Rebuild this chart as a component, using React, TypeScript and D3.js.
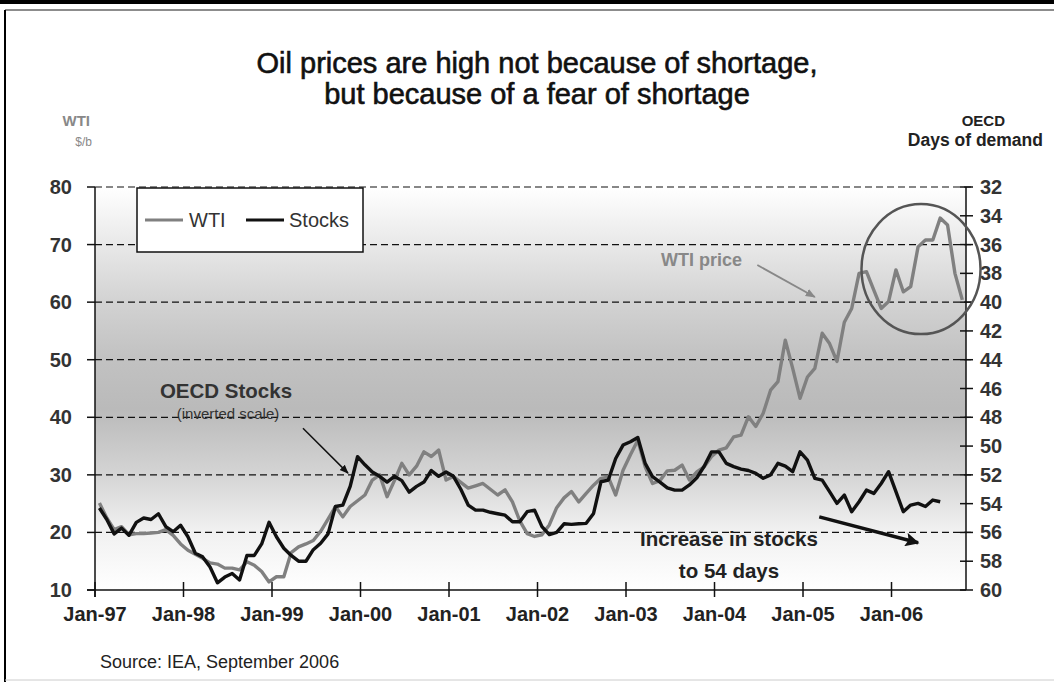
import React from "react";
import * as d3 from "d3";

// ---------- data (monthly, Jan-97 onward) ----------
const wti: number[] = [
  25.1, 22.5, 20.5, 21.0, 19.6, 19.8, 19.8, 19.9, 20.0, 20.5, 19.5, 18.0,
  16.9, 16.2, 15.5, 14.7, 14.5, 13.8, 13.8, 13.5, 14.9, 14.3, 13.2, 11.4,
  12.3, 12.3, 16.5, 17.5, 18.0, 18.6, 20.2, 22.3, 24.5, 22.7, 24.5, 25.5,
  26.5, 29.1, 30.0, 26.2, 29.0, 32.0, 30.0, 31.5, 34.0, 33.2, 34.3, 29.1,
  29.7, 28.7, 27.7, 28.1, 28.5, 27.5, 26.5, 27.4, 25.3, 22.0, 19.8, 19.3,
  19.6, 21.3, 24.3, 26.0, 27.1, 25.3, 26.8, 28.2, 29.4, 29.6, 26.5, 30.8,
  33.5, 36.0, 31.4, 28.5, 29.0, 30.7, 30.8, 31.7, 29.1, 30.5, 31.4, 33.2,
  34.3, 34.7, 36.6, 36.9, 40.1, 38.4, 40.7, 44.7, 46.2, 53.4, 48.5, 43.3,
  47.0, 48.5, 54.6, 52.8, 49.7, 56.5, 58.9, 65.0, 65.3, 62.1, 58.9, 60.1,
  65.6, 61.8, 62.7, 69.6, 70.8, 70.8, 74.6, 73.4, 65.0, 60.4,
];

const stocks: number[] = [
  54.3, 55.1, 56.1, 55.7, 56.2, 55.3, 55.0, 55.1, 54.7, 55.6, 55.95, 55.5,
  56.3, 57.45, 57.7, 58.4, 59.5, 59.1, 58.85, 59.3, 57.6, 57.6, 56.8, 55.3,
  56.3, 57.1, 57.6, 58.0, 58.0, 57.2, 56.75, 56.1, 54.2, 54.1, 52.8, 50.74,
  51.3, 51.8, 52.1, 52.5, 52.1, 52.4, 53.2, 52.8, 52.5, 51.7, 52.1, 51.8,
  52.1, 53.0, 54.1, 54.45, 54.45, 54.6, 54.7, 54.8, 55.26, 55.26, 54.56, 54.45,
  55.6, 56.15, 56.0, 55.4, 55.44, 55.4, 55.37, 54.68, 52.48, 52.36, 50.86, 49.93,
  49.7, 49.4, 51.2, 52.13, 52.5, 52.9, 53.06, 53.06, 52.7, 52.2, 51.4, 50.4,
  50.4, 51.2, 51.43, 51.6, 51.7, 51.9, 52.24, 52.0, 51.2, 51.39, 51.78, 50.4,
  50.97, 52.24, 52.36, 53.17, 53.98, 53.4, 54.56, 53.87, 53.06, 53.29, 52.6, 51.78,
  53.17, 54.56, 54.1, 53.98, 54.2, 53.75, 53.87,
];

const xTickLabels = ["Jan-97", "Jan-98", "Jan-99", "Jan-00", "Jan-01", "Jan-02", "Jan-03", "Jan-04", "Jan-05", "Jan-06"];
const leftTicks = [10, 20, 30, 40, 50, 60, 70, 80];
const gridValues = [20, 30, 40, 50, 60, 70, 80];
const rightTicks = [32, 34, 36, 38, 40, 42, 44, 46, 48, 50, 52, 54, 56, 58, 60];

const title1 = "Oil prices are high not because of shortage,";
const title2 = "but because of a fear of shortage";
const source = "Source: IEA, September 2006";

// ---------- layout ----------
const W = 1054;
const H = 682;
const L = 95, R = 966, T = 187, B = 590;
const monthOffset = 0.6;
const font = "'Liberation Sans', Arial, sans-serif";

const x = d3.scaleLinear().domain([0, 118.1]).range([L, R]);
const yL = d3.scaleLinear().domain([10, 80]).range([B, T]);
const yR = d3.scaleLinear().domain([32, 60]).range([T, B]);

const wtiLine = d3
  .line<number>()
  .x((_, i) => x(i + monthOffset))
  .y((d) => yL(d));
const stockLine = d3
  .line<number>()
  .x((_, i) => x(i + monthOffset))
  .y((d) => yR(d));

export default function App() {
  return (
    <svg
      width={W}
      height={H}
      viewBox={`0 0 ${W} ${H}`}
      style={{ position: "absolute", left: 0, top: 0, background: "#fff" }}
      fontFamily={font}
    >
      <defs>
        <linearGradient id="bg" x1="0" y1="0" x2="0" y2="1">
          <stop offset="0" stopColor="#ffffff" />
          <stop offset="0.12" stopColor="#ececec" />
          <stop offset="0.28" stopColor="#d3d3d3" />
          <stop offset="0.42" stopColor="#c2c2c2" />
          <stop offset="0.55" stopColor="#bababa" />
          <stop offset="0.7" stopColor="#d2d2d2" />
          <stop offset="0.85" stopColor="#f0f0f0" />
          <stop offset="1" stopColor="#ffffff" />
        </linearGradient>
        <marker id="ahBlack" viewBox="0 0 10 10" refX="9" refY="5" markerWidth="9" markerHeight="9" orient="auto" markerUnits="userSpaceOnUse">
          <path d="M0,1 L10,5 L0,9 Z" fill="#111" />
        </marker>
        <marker id="ahGray" viewBox="0 0 10 10" refX="9" refY="5" markerWidth="10" markerHeight="10" orient="auto" markerUnits="userSpaceOnUse">
          <path d="M0,1 L10,5 L0,9 Z" fill="#888" />
        </marker>
        <marker id="ahBig" viewBox="0 0 10 10" refX="9" refY="5" markerWidth="16" markerHeight="14" orient="auto" markerUnits="userSpaceOnUse">
          <path d="M0,0 L10,5 L0,10 L2,5 Z" fill="#111" />
        </marker>
      </defs>

      {/* frame */}
      <rect x={0} y={0} width={W} height={4} fill="#000" />
      <line x1={5} y1={10} x2={W} y2={10} stroke="#666" strokeWidth={1.5} />
      <line x1={5} y1={10} x2={5} y2={H} stroke="#000" strokeWidth={2} />
      <line x1={5} y1={H - 2} x2={W} y2={H - 2} stroke="#ccc" strokeWidth={1} />

      {/* titles */}
      <text x={537} y={73} textAnchor="middle" fontSize={29} fill="#111" stroke="#111" strokeWidth={0.6}>{title1}</text>
      <text x={537} y={104} textAnchor="middle" fontSize={29} fill="#111" stroke="#111" strokeWidth={0.6}>{title2}</text>
      <text x={90} y={126} textAnchor="end" fontSize={15} fontWeight="bold" fill="#888">WTI</text>
      <text x={92} y={146} textAnchor="end" fontSize={12} fill="#888">$/b</text>
      <text x={1005} y={126} textAnchor="end" fontSize={15} fontWeight="bold" fill="#222">OECD</text>
      <text x={1043} y={146} textAnchor="end" fontSize={17.5} fontWeight="bold" fill="#222">Days of demand</text>

      {/* plot background */}
      <rect x={L} y={T} width={R - L} height={B - T} fill="url(#bg)" />

      {/* gridlines and left ticks */}
      {gridValues.map((v) => (
        <line key={"g" + v} x1={L} x2={R + 7} y1={yL(v)} y2={yL(v)} stroke="#111" strokeWidth={1.2} strokeDasharray="7,4" />
      ))}
      {leftTicks.map((v) => (
        <g key={"lt" + v}>
          <line x1={L - 8} x2={L} y1={yL(v)} y2={yL(v)} stroke="#111" strokeWidth={1.5} />
          <text x={72} y={yL(v) + 7} textAnchor="end" fontSize={20} fontWeight="bold" fill="#333">{v}</text>
        </g>
      ))}

      {/* right axis */}
      <line x1={R} x2={R} y1={T} y2={B} stroke="#111" strokeWidth={1.5} />
      {rightTicks.map((d) => (
        <g key={"rt" + d}>
          <line x1={R - 6} x2={R + 7} y1={yR(d)} y2={yR(d)} stroke="#111" strokeWidth={1.5} />
          <text x={980} y={yR(d) + 7} fontSize={20} fontWeight="bold" fill="#333">{d}</text>
        </g>
      ))}

      {/* left & bottom axes */}
      <line x1={L} x2={L} y1={T} y2={B + 7} stroke="#111" strokeWidth={1.5} />
      <line x1={L - 8} x2={R} y1={B} y2={B} stroke="#111" strokeWidth={1.5} />
      {xTickLabels.map((lab, i) => (
        <g key={lab}>
          <line x1={x(i * 12)} x2={x(i * 12)} y1={B - 8} y2={B + 7} stroke="#111" strokeWidth={1.5} />
          <text x={x(i * 12)} y={621} textAnchor="middle" fontSize={20} fontWeight="bold" fill="#222">{lab}</text>
        </g>
      ))}

      {/* series */}
      <path d={wtiLine(wti) || ""} fill="none" stroke="#808080" strokeWidth={3.4} strokeLinejoin="round" />
      <path d={stockLine(stocks) || ""} fill="none" stroke="#111" strokeWidth={3.4} strokeLinejoin="round" />

      {/* legend */}
      <rect x={137} y={188} width={226} height={64} fill="#fff" stroke="#111" strokeWidth={1.5} />
      <line x1={145} x2={183} y1={220} y2={220} stroke="#808080" strokeWidth={3} />
      <text x={189} y={227} fontSize={20} fill="#333">WTI</text>
      <line x1={246} x2={284} y1={220} y2={220} stroke="#111" strokeWidth={3} />
      <text x={289} y={227} fontSize={20} fill="#333">Stocks</text>

      {/* annotations */}
      <text x={226} y={398} textAnchor="middle" fontSize={20.5} fontWeight="bold" fill="#333">OECD Stocks</text>
      <text x={228} y={419} textAnchor="middle" fontSize={15} fill="#333">(inverted scale)</text>
      <line x1={x(28.2)} y1={yL(38.1)} x2={x(34.3)} y2={yL(30.3)} stroke="#111" strokeWidth={1.5} markerEnd="url(#ahBlack)" />

      <text x={742} y={266} textAnchor="end" fontSize={18} fontWeight="bold" fill="#888">WTI price</text>
      <line x1={x(89.8)} y1={yL(66.45)} x2={x(97.6)} y2={yL(60.9)} stroke="#888" strokeWidth={1.8} markerEnd="url(#ahGray)" />

      <ellipse cx={x(112.0)} cy={yL(65.75)} rx={x(8.07) - x(0)} ry={yL(0) - yL(11.3)} fill="none" stroke="#555" strokeWidth={2.5} />

      <text x={729} y={546} textAnchor="middle" fontSize={20.5} fontWeight="bold" fill="#222">Increase in stocks</text>
      <text x={729} y={578} textAnchor="middle" fontSize={20.5} fontWeight="bold" fill="#222">to 54 days</text>
      <line x1={x(98.2)} y1={yL(22.7)} x2={x(111.6)} y2={yL(18.2)} stroke="#111" strokeWidth={3.5} markerEnd="url(#ahBig)" />

      <text x={100} y={668} fontSize={18} fill="#222">{source}</text>
    </svg>
  );
}
